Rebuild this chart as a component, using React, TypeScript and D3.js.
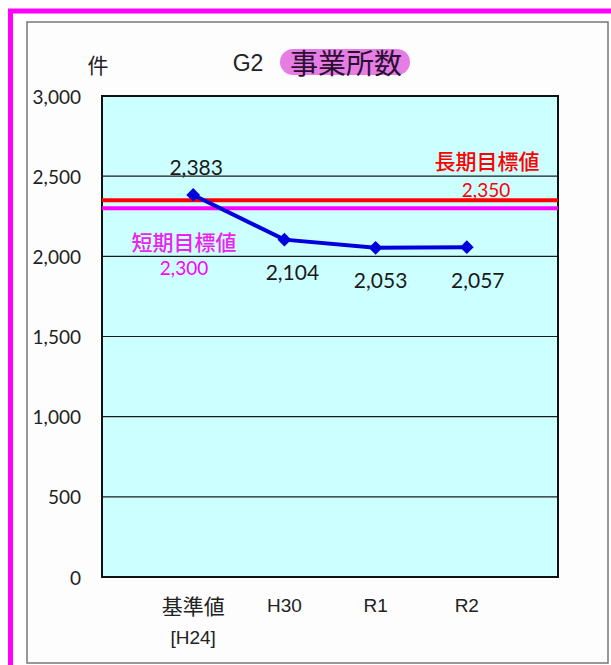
import React from "react";
import * as d3 from "d3";

const categories = ["基準値", "H30", "R1", "R2"];
const subLabels = ["[H24]", "", "", ""];
const values = [2383, 2104, 2053, 2057];
const yTicks = [0, 500, 1000, 1500, 2000, 2500, 3000];
const longTarget = 2350;
const shortTarget = 2300;
const longLabel = "長期目標値";
const shortLabel = "短期目標値";
const titlePrefix = "G2";
const titleMain = "事業所数";
const unitLabel = "件";

const W = 611;
const H = 665;
const plot = { left: 102, right: 558, top: 96, bottom: 577 };
const fmt = d3.format(",");

export default function App() {
  const x = d3.scaleLinear().domain([0, categories.length + 1]).range([plot.left, plot.right]);
  const y = d3.scaleLinear().domain([0, 3000]).range([plot.bottom, plot.top]);
  const line = d3
    .line<number>()
    .x((_, i) => x(i + 1))
    .y((d) => y(d));
  const marker = d3.symbol().type(d3.symbolSquare).size(95)() as string;
  const font = "Lato, 'Open Sans', sans-serif";
  const arial = "'Liberation Sans', Arial, sans-serif";
  const cjk = "'Noto Sans CJK JP', sans-serif";
  const labelOffsets = [
    { dx: 3, dy: -28 },
    { dx: 8, dy: 32 },
    { dx: 5, dy: 32 },
    { dx: 11, dy: 32 },
  ];
  return (
    <svg
      width={W}
      height={H}
      style={{ position: "absolute", left: 0, top: 0, background: "#fff" }}
    >
      {/* magenta frame */}
      <line x1={10.5} x2={10.5} y1={9} y2={H} stroke="#ff00ff" strokeWidth={5} />
      <line x1={8} x2={W} y1={11} y2={11} stroke="#ff00ff" strokeWidth={5} />
      {/* inner box */}
      <rect x={27} y={22} width={581} height={641} fill="#fdfdfd" stroke="#777" strokeWidth={1.5} />

      {/* title */}
      <text x={98} y={64} fontFamily={cjk} fontSize={21} textAnchor="middle" dominantBaseline="central" fill="#222">
        {unitLabel}
      </text>
      <text x={248} y={63} fontFamily={arial} fontSize={23} textAnchor="middle" dominantBaseline="central" fill="#222">
        {titlePrefix}
      </text>
      <rect x={280} y={49} width={130} height={26} rx={13} fill="#e57de5" />
      <text x={346} y={62} fontFamily={cjk} fontSize={28} textAnchor="middle" dominantBaseline="central" fill="#2a1030">
        {titleMain}
      </text>

      {/* plot area */}
      <rect x={plot.left} y={plot.top} width={plot.right - plot.left} height={plot.bottom - plot.top} fill="#ccffff" />
      {yTicks.map((t) => (
        <g key={t}>
          <line x1={plot.left} x2={plot.right} y1={y(t)} y2={y(t)} stroke="#1a1a1a" strokeWidth={1.2} />
          <text x={81} y={y(t)} fontFamily={font} fontSize={19} textAnchor="end" dominantBaseline="central" fill="#222">
            {fmt(t)}
          </text>
        </g>
      ))}
      <rect x={plot.left} y={plot.top} width={plot.right - plot.left} height={plot.bottom - plot.top} fill="none" stroke="#111" strokeWidth={2} />

      {/* target lines */}
      <line x1={plot.left} x2={plot.right} y1={y(longTarget)} y2={y(longTarget)} stroke="#ff0000" strokeWidth={4} />
      <line x1={plot.left} x2={plot.right} y1={y(shortTarget)} y2={y(shortTarget)} stroke="#ff00ff" strokeWidth={4} />
      <text x={487} y={160} fontFamily={cjk} fontSize={21} fontWeight={500} textAnchor="middle" dominantBaseline="central" fill="#ff0000">
        {longLabel}
      </text>
      <text x={486} y={189} fontFamily={font} fontSize={19} textAnchor="middle" dominantBaseline="central" fill="#ff0000">
        {fmt(longTarget)}
      </text>
      <text x={184} y={241} fontFamily={cjk} fontSize={21} fontWeight={500} textAnchor="middle" dominantBaseline="central" fill="#ee22ee">
        {shortLabel}
      </text>
      <text x={184} y={267} fontFamily={font} fontSize={19} textAnchor="middle" dominantBaseline="central" fill="#ff00ff">
        {fmt(shortTarget)}
      </text>

      {/* series */}
      <path d={line(values) || ""} fill="none" stroke="#0000dd" strokeWidth={4} />
      {values.map((v, i) => (
        <g key={i}>
          <path d={marker} transform={`translate(${x(i + 1)},${y(v)}) rotate(45)`} fill="#0000dd" />
          <text
            x={x(i + 1) + labelOffsets[i].dx}
            y={y(v) + labelOffsets[i].dy}
            fontFamily={font}
            fontSize={21}
            textAnchor="middle"
            dominantBaseline="central"
            fill="#1a1a1a"
          >
            {fmt(v)}
          </text>
        </g>
      ))}

      {/* category labels */}
      {categories.map((c, i) => (
        <g key={c}>
          <text x={x(i + 1)} y={605} fontFamily={i === 0 ? cjk : arial} fontSize={i === 0 ? 21 : 19} textAnchor="middle" dominantBaseline="central" fill="#222">
            {c}
          </text>
          {subLabels[i] && (
            <text x={x(i + 1)} y={637} fontFamily={arial} fontSize={19} textAnchor="middle" dominantBaseline="central" fill="#222">
              {subLabels[i]}
            </text>
          )}
        </g>
      ))}
    </svg>
  );
}
